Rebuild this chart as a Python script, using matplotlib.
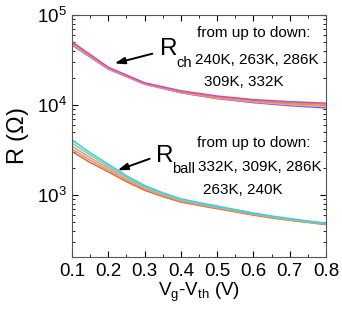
import numpy as np
import matplotlib
matplotlib.use('Agg')
import matplotlib.pyplot as plt
from matplotlib.ticker import LogLocator, MultipleLocator, NullFormatter

plt.rcParams['font.family'] = ['Liberation Sans', 'DejaVu Sans']
plt.rcParams['mathtext.fontset'] = 'custom'
plt.rcParams['mathtext.rm'] = 'Liberation Sans'
plt.rcParams['mathtext.it'] = 'Liberation Sans'

# gate overdrive (V)
vg_ch = [0.1, 0.2, 0.3, 0.4, 0.5, 0.6, 0.7, 0.8]
vg_ball = [0.1, 0.15, 0.2, 0.25, 0.3, 0.35, 0.4, 0.45, 0.5, 0.55, 0.6, 0.65, 0.7, 0.75, 0.8]

# channel resistance, top to bottom: 240K, 263K, 286K, 309K, 332K
rch_240 = [50500, 26300, 17700, 14400, 12600, 11500, 10900, 10500]
rch_263 = [49500, 26000, 17500, 14200, 12350, 11250, 10600, 10200]
rch_286 = [48500, 25700, 17350, 14000, 12150, 11050, 10350, 9900]
rch_309 = [47500, 25400, 17200, 13850, 11950, 10850, 10100, 9600]
rch_332 = [46500, 25100, 17050, 13700, 11800, 10650, 9850, 9300]

# ballistic resistance, top to bottom: 332K, 309K, 286K, 263K, 240K
rball_332 = [4100, 2950, 2200, 1640, 1280, 1060, 910, 825, 755, 690, 632, 585, 548, 515, 488]
rball_309 = [3800, 2780, 2100, 1580, 1240, 1035, 890, 810, 743, 680, 623, 577, 541, 510, 483]
rball_286 = [3500, 2600, 2000, 1520, 1200, 1010, 870, 795, 730, 670, 615, 570, 535, 505, 478]
rball_263 = [3250, 2440, 1900, 1460, 1165, 985, 852, 780, 718, 660, 607, 563, 529, 500, 474]
rball_240 = [3050, 2300, 1810, 1410, 1130, 962, 835, 766, 706, 650, 599, 557, 524, 496, 470]

ch_series = [rch_332, rch_309, rch_286, rch_263, rch_240]
ch_colors = ['#7a5ce0', '#e8a0c8', '#b0b040', '#f09030', '#e040c8']
ball_series = [rball_240, rball_263, rball_286, rball_309, rball_332]
ball_colors = ['#c07840', '#f09060', '#e890b0', '#90d070', '#30d0f0']

fig = plt.figure(figsize=(3.42, 3.28), dpi=100)
ax = fig.add_axes([0.2105, 0.2165, 0.7425, 0.7375])

for r, c in zip(ch_series, ch_colors):
    ax.plot(vg_ch, r, color=c, lw=1.1)
for r, c in zip(ball_series, ball_colors):
    ax.plot(vg_ball, r, color=c, lw=1.1)

ax.set_yscale('log')
ax.set_xlim(0.1, 0.8)
ax.set_ylim(205, 1e5)
ax.xaxis.set_major_locator(MultipleLocator(0.1))
ax.xaxis.set_minor_locator(MultipleLocator(0.05))
ax.yaxis.set_major_locator(LogLocator(base=10, numticks=10))
ax.yaxis.set_minor_locator(LogLocator(base=10, subs=np.arange(2, 10), numticks=20))
ax.yaxis.set_minor_formatter(NullFormatter())
ax.tick_params(which='both', direction='in', top=True, right=True, labelsize=13.5, pad=4)
ax.tick_params(which='major', length=4, width=0.8)
ax.tick_params(which='minor', length=2, width=0.6)
ax.set_xticks(vg_ch)
ax.set_xticklabels([f'{v:.1f}' for v in vg_ch])
for s in ax.spines.values():
    s.set_linewidth(0.8)
    s.set_color('#555555')

ax.set_xlabel(r'V$_\mathregular{g}$-V$_\mathregular{th}$ (V)', fontsize=13.5, labelpad=1)
ax.set_ylabel(r'R ($\Omega$)', fontsize=17, labelpad=4)

lab = 11
# R_ch annotation
ax.text(0.3425, 35900, 'R', fontsize=17.5, va='baseline', ha='left')
ax.text(0.389, 26400, 'ch', fontsize=10.5, va='baseline', ha='left')
ax.annotate('', xy=(0.210, 28500), xytext=(0.329, 37900),
            arrowprops=dict(arrowstyle='-|>,head_length=0.6,head_width=0.2',
                            color='black', lw=1.4, mutation_scale=10))
ax.text(0.444, 63000, 'from up to down:', fontsize=lab, va='center', ha='left')
ax.text(0.439, 31600, '240K, 263K, 286K', fontsize=lab, va='center', ha='left')
ax.text(0.465, 18000, '309K, 332K', fontsize=lab, va='center', ha='left')

# R_ball annotation
ax.text(0.332, 2330, 'R', fontsize=17.5, va='baseline', ha='left')
ax.text(0.376, 1755, 'ball', fontsize=10.5, va='baseline', ha='left')
ax.annotate('', xy=(0.2185, 1840), xytext=(0.321, 2590),
            arrowprops=dict(arrowstyle='-|>,head_length=0.6,head_width=0.2',
                            color='black', lw=1.4, mutation_scale=10))
ax.text(0.444, 3780, 'from up to down:', fontsize=lab, va='center', ha='left')
ax.text(0.446, 2050, '332K, 309K, 286K', fontsize=lab, va='center', ha='left')
ax.text(0.462, 1137, '263K, 240K', fontsize=lab, va='center', ha='left')

fig.savefig('out.png', dpi=100, facecolor='white')
